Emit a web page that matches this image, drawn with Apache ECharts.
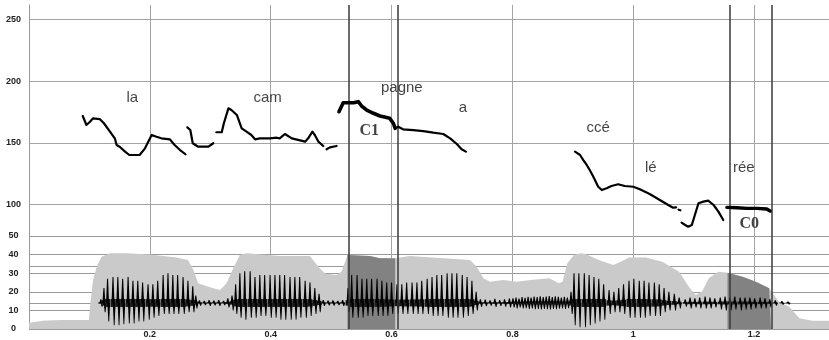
<!DOCTYPE html>
<html><head><meta charset="utf-8">
<script src="https://cdn.jsdelivr.net/npm/echarts@6/dist/echarts.min.js"></script>
<style>html,body{margin:0;padding:0;background:#fff}#c{width:829px;height:340px}</style>
</head><body><div id="c"></div><script>
// ---- tick values ----
const xTickValues = [0, 0.2, 0.4, 0.6, 0.8, 1, 1.2];
const xLabelValues = [0.2, 0.4, 0.6, 0.8, 1, 1.2];
const pitchTicks = [100, 150, 200, 250];
const intensityLabelTicks = [0, 10, 20, 30, 40, 50];
const intensityLines = [0, 10, 14, 20, 30, 33.5, 40, 50];
const waveBaseline = 14;

// ---- F0 contours (time s, Hz) ----
const pitchLa = [[0.089,171.7],[0.092,171.5],[0.095,164.4],[0.101,167],[0.106,169.8],[0.117,169.2],[0.124,165.8],[0.134,159],[0.142,153.6],[0.145,148.2],[0.150,146.8],[0.159,142.8],[0.166,140.1],[0.183,140.1],[0.192,145.5],[0.203,156.3],[0.211,154.9],[0.219,153.6],[0.233,152.8],[0.241,148.2],[0.250,144.1],[0.259,140.7]];
const pitchLaTail = [[0.262,162.5],[0.267,160.3],[0.271,149.6],[0.280,146.8],[0.297,146.8],[0.305,149.6]];
const pitchCam = [[0.310,158.5],[0.319,158.5],[0.3225,165.8],[0.330,177.9],[0.335,176.5],[0.344,172.5],[0.352,161.7],[0.360,159],[0.368,156.3],[0.374,152.8],[0.382,153.6],[0.399,153.6],[0.410,154.1],[0.415,153.6],[0.4235,157.1],[0.435,153.6],[0.457,150.9],[0.462,153.6],[0.469,159],[0.473,156.3],[0.479,150.9],[0.487,147.4]];
const pitchCamTail = [[0.4925,144.7],[0.498,146.3],[0.509,147.4]];
const pitchC1 = [[0.513,175.2],[0.520,182.4],[0.528,182.4],[0.537,182.4],[0.545,183.3],[0.5505,179.8],[0.559,176.5],[0.570,173.9],[0.581,171.7],[0.597,169.8],[0.603,165.8],[0.606,161.7]];
const pitchA = [[0.606,161.7],[0.611,163],[0.619,160.9],[0.636,160.3],[0.6525,159.5],[0.669,158.2],[0.6856,157.1],[0.697,153.6],[0.708,149],[0.716,144.7],[0.723,142.8]];
const pitchCce = [[0.9036,142.8],[0.912,140.1],[0.9174,136],[0.923,132],[0.928,127.9],[0.934,122.5],[0.942,114.4],[0.948,111.7],[0.956,113.1],[0.964,115],[0.975,116.4],[0.986,115],[1.000,114.4],[1.011,112.3],[1.028,108.3],[1.044,103.6],[1.058,99.6],[1.066,97.4],[1.071,97.7]];
const pitchDot = [[1.075,95.8],[1.078,95.3]];
const pitchLe = [[1.080,85.3],[1.083,86.2],[1.086,83.4],[1.091,82],[1.097,83.4],[1.102,91.5],[1.108,101],[1.116,102.3],[1.124,103.1],[1.133,99.6],[1.141,94.2],[1.149,87.4]];
const pitchC0 = [[1.155,97.7],[1.1715,97.4],[1.188,96.9],[1.2045,96.9],[1.221,96.4],[1.2265,94.7]];

// ---- intensity envelope (time s, level) ----
const intensity = [[0,3.4],[0.023,4.5],[0.051,4.8],[0.099,4.8],[0.102,15],[0.106,26.3],[0.112,33.5],[0.120,38.9],[0.134,40.7],[0.161,40.7],[0.200,40],[0.244,38.5],[0.263,37.1],[0.272,31.7],[0.280,24.6],[0.288,23.7],[0.305,21.9],[0.316,21],[0.327,24.6],[0.338,32.6],[0.349,39.8],[0.360,40.7],[0.415,39.2],[0.465,39.2],[0.470,37.1],[0.481,32.6],[0.490,29.9],[0.509,29],[0.517,30.8],[0.523,36],[0.527,39.8],[0.564,39.2],[0.581,38],[0.606,38],[0.608,38.9],[0.630,39.2],[0.730,37.1],[0.741,33.5],[0.752,27.3],[0.763,25.4],[0.785,26.3],[0.807,25.4],[0.830,26.3],[0.861,27.3],[0.877,24.6],[0.883,25.4],[0.891,35.3],[0.902,39.8],[0.913,40.7],[0.921,40.3],[0.943,37.1],[0.967,34.4],[0.979,36.2],[0.993,38.5],[1.021,38.5],[1.048,36.2],[1.076,30.8],[1.092,22.7],[1.103,18.3],[1.114,20.1],[1.125,27.3],[1.141,30.8],[1.156,30.3],[1.181,28.1],[1.203,25.4],[1.225,21.9],[1.241,14.7],[1.258,12],[1.275,5.8],[1.297,4.5],[1.324,4.5]];
const intensityC1 = [[0.527,39.8],[0.564,39.2],[0.581,38],[0.606,38]];
const intensityC0 = [[1.156,30.3],[1.181,28.1],[1.203,25.4],[1.225,21.9],[1.228,21.5]];

// ---- waveform peaks (time s, top, bottom) ----
const waveSpikes = [
[0.119,16,12],[0.124,22,9],[0.130,27,4],[0.139,28,2],[0.147,28,2],[0.155,27,2.5],[0.164,28,3],[0.172,26,3],[0.180,26,4],[0.188,25,4],[0.197,24,5],[0.205,24,6],[0.213,26,7],[0.222,29,8],[0.230,30,8],[0.238,29,8],[0.246,29,8],[0.255,28,8],[0.263,26,9],[0.271,23,9],[0.276,18,11],
[0.282,15.5,12.5],[0.290,15.2,12.8],[0.298,15.6,12.4],[0.306,15.3,12.7],[0.314,15.6,12.4],[0.322,15.2,12.8],[0.329,16.5,11.5],
[0.336,18,10],[0.342,24,8],[0.349,30,6],[0.357,31,5],[0.366,31,6],[0.374,28,6],[0.382,29,7],[0.390,29,7],[0.399,29,6],[0.407,29,6],[0.415,29,5],[0.423,29,5],[0.432,28,5],[0.440,28,5],[0.448,28,6],[0.457,26,6],[0.465,25,7],[0.473,22,8],[0.480,19,9],
[0.487,15.6,12.4],[0.495,15.3,12.7],[0.503,15.5,12.5],[0.511,15.2,12.8],[0.519,15.6,12.4],
[0.528,22,9],[0.534,29,6],[0.543,29,6],[0.551,27,6],[0.559,27,7],[0.567,27,7],[0.576,27,7],[0.584,26,7],[0.592,25,7],[0.600,25,8],[0.609,24,8],[0.617,24,8],[0.625,25,8],[0.634,25,8],[0.642,25,8],[0.650,26,8],[0.659,27,8],[0.667,28,7],[0.675,29,7],[0.683,29,7],[0.692,30,6],[0.700,30,6],[0.708,30,6],[0.717,29,6],[0.725,28,7],[0.733,26,8],[0.740,20,10],
[0.747,16,12],[0.755,15.8,12.2],[0.763,15.5,12.5],[0.771,16.2,11.8],[0.779,15.6,12.4],[0.787,16,12],[0.795,16.4,11.6],
[0.801,16.5,11.5],[0.806,17,11],[0.811,16.4,11.6],[0.816,17.2,11],[0.821,16.8,11.2],[0.826,17.4,10.8],[0.831,17,11],[0.836,17.5,10.6],[0.841,17.2,10.8],[0.846,17.6,10.5],[0.851,17.2,10.8],[0.856,17.5,10.6],[0.861,17.8,10.5],[0.866,17.2,10.8],[0.871,17.6,10.6],[0.876,17.3,10.9],[0.881,17,11],[0.886,17.4,10.8],[0.891,17,11.2],
[0.897,20,8],[0.902,30,2],[0.910,30,1],[0.919,30,1],[0.927,29,2],[0.935,28,3],[0.943,27,4],[0.951,24,5],[0.960,21,8],[0.968,20,9],[0.976,22,9],[0.984,24,8],[0.993,26,6],[1.001,27,6],[1.010,26,6],[1.018,26,6],[1.026,25,7],[1.035,25,7],[1.043,24,7],[1.051,22,9],[1.059,20,10],[1.068,19,10],[1.076,17,11],
[1.086,16,12],[1.094,17,11],[1.102,16.5,11.5],[1.110,17,11],[1.119,17.5,11],[1.127,17,11],[1.135,16.5,11.5],[1.144,17,10.5],[1.152,17.5,10],[1.160,17,10],[1.168,17.5,10.5],[1.177,17,10],[1.185,17,10.5],[1.193,17,10.5],[1.201,16.5,11],[1.210,17,11],[1.218,16.5,11],[1.226,16,11.5],[1.235,15.5,12.5],[1.246,15,13],[1.256,14.8,13.2]
];

// ---- segment boundaries (time s) ----
const boundaries = [0.527, 0.606, 1.156, 1.228];

// ---- annotations: text, time, Hz ----
const wordLabels = [['la',0.171,186.3],['cam',0.395,186.3],['pagne',0.617,194.4],['a',0.718,178.2],['ccé',0.942,162],['lé',1.029,129.6],['rée',1.183,129.6]];
const levelLabels = [['C1',0.563,159.9],['C0',1.192,84.2]];

const chart = echarts.init(document.getElementById('c'));
const gridColor = '#a4a4a4';
const pitchLine = (data, w) => ({type:'line', xAxisIndex:0, yAxisIndex:0, data, symbol:'none', lineStyle:{color:'#000', width:w, join:'round', cap:'round'}, z:6, silent:true});

chart.setOption({
  animation:false,
  backgroundColor:'#fff',
  grid:{left:29, right:0, top:5, bottom:11},
  xAxis:{type:'value', min:0, max:1.324,
    axisLine:{show:false}, axisTick:{show:false, customValues:xTickValues},
    splitLine:{show:true, lineStyle:{color:gridColor, width:1}},
    axisLabel:{customValues:xLabelValues, margin:1, fontSize:9, fontWeight:'bold', color:'#222', fontFamily:'Liberation Sans'}},
  yAxis:[
    {type:'value', min:-0.83, max:261.58, position:'left',
      axisLine:{show:true, lineStyle:{color:'#999'}}, axisTick:{show:false, customValues:pitchTicks},
      splitLine:{show:true, lineStyle:{color:gridColor, width:1}},
      axisLabel:{customValues:pitchTicks, align:'center', margin:15.5, fontSize:9, fontWeight:'bold', color:'#222', fontFamily:'Liberation Sans'}},
    {type:'value', min:0, max:174.19, position:'left', offset:0,
      axisLine:{show:false}, axisTick:{show:false, customValues:intensityLines},
      splitLine:{show:true, lineStyle:{color:'#9a9a9a', width:1}},
      axisLabel:{customValues:intensityLabelTicks, align:'center', margin:15.5, fontSize:9, fontWeight:'bold', color:'#222', fontFamily:'Liberation Sans', padding:[0,0,4,0]}}
  ],
  series:[
    {type:'line', xAxisIndex:0, yAxisIndex:1, data:intensity, symbol:'none', lineStyle:{width:0}, areaStyle:{color:'#cacaca', opacity:1}, z:2, silent:true,
      markLine:{symbol:'none', silent:true, label:{show:false}, lineStyle:{color:'#3a3a3a', width:1.5, type:'solid'}, data:boundaries.map(b=>({xAxis:b}))}},
    {type:'line', xAxisIndex:0, yAxisIndex:1, data:intensityC1, symbol:'none', lineStyle:{width:0}, areaStyle:{color:'#828282', opacity:1}, z:3, silent:true},
    {type:'line', xAxisIndex:0, yAxisIndex:1, data:intensityC0, symbol:'none', lineStyle:{width:0}, areaStyle:{color:'#828282', opacity:1}, z:3, silent:true},
    {type:'custom', xAxisIndex:0, yAxisIndex:1, data:waveSpikes, encode:{x:0, y:[1,2]}, z:4, silent:true,
      renderItem:(params, api)=>{
        const t = api.value(0);
        const a = api.coord([t, api.value(1)]);
        const b = api.coord([t, api.value(2)]);
        const c = api.coord([t, waveBaseline]);
        const x = a[0];
        const span = b[1] - a[1];
        const bh = Math.min(4, span * 0.11);
        return {type:'group', children:[
          {type:'rect', shape:{x:x-2.5, y:c[1]-bh, width:5, height:bh*2}, style:{fill:'#1a1a1a'}},
          {type:'polygon', shape:{points:[[x-1.5,c[1]],[x-0.5,a[1]],[x+0.5,a[1]],[x+1.5,c[1]]]}, style:{fill:'#000'}},
          {type:'polygon', shape:{points:[[x-0.2,c[1]],[x+0.8,b[1]],[x+1.6,b[1]],[x+2.6,c[1]]]}, style:{fill:'#000'}}
        ]};
      }},
    pitchLine(pitchLa, 2.2), pitchLine(pitchLaTail, 2.2), pitchLine(pitchCam, 2.2), pitchLine(pitchCamTail, 2.2),
    pitchLine(pitchC1, 3.6), pitchLine(pitchA, 2.2), pitchLine(pitchCce, 2.2), pitchLine(pitchDot, 2.2),
    pitchLine(pitchLe, 2.2), pitchLine(pitchC0, 3.4),
    {type:'scatter', xAxisIndex:0, yAxisIndex:0, symbolSize:0, z:7, silent:true,
      data:wordLabels.map(w=>({name:w[0], value:[w[1], w[2]]})),
      label:{show:true, position:'inside', formatter:'{b}', fontSize:15, color:'#111', fontFamily:'Liberation Sans'}},
    {type:'scatter', xAxisIndex:0, yAxisIndex:0, symbolSize:0, z:7, silent:true,
      data:levelLabels.map(w=>({name:w[0], value:[w[1], w[2]]})),
      label:{show:true, position:'inside', formatter:'{b}', fontSize:16, fontWeight:'bold', color:'#111', fontFamily:'Liberation Serif'}}
  ]
});
</script></body></html>
